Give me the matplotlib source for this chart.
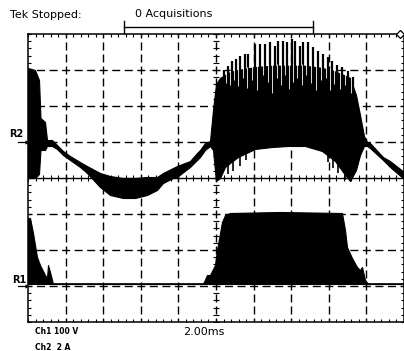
import matplotlib
matplotlib.use("Agg")
import matplotlib.pyplot as plt
import numpy as np
from matplotlib.lines import Line2D

plt.rcParams['lines.scale_dashes'] = False
plt.rcParams['font.family'] = ['DejaVu Sans']

# ---------------- data (time in ms, amplitude in screen divisions) ----------------
# R2 reference trace: envelope of the dense waveform (upper / lower edge)
r2_t = [0.000, 0.372, 0.585, 0.665, 0.904, 1.011, 1.277, 1.543, 1.862, 2.234,
        2.766, 3.138, 3.830, 4.362, 5.053, 5.691, 6.330, 6.862, 7.181, 7.713,
        7.926, 8.617, 8.989, 9.149, 9.415, 9.681, 9.840, 10.000, 10.213, 10.479,
        10.745, 11.170, 12.074, 12.979, 13.830, 14.734, 15.638, 16.330, 16.755, 17.128,
        17.447, 17.660, 17.872, 18.032, 18.191, 18.883, 19.255, 20.000]
r2_hi = [3.056, 3.000, 2.722, 1.667, 1.556, 1.056, 1.056, 0.917, 0.750, 0.611,
         0.444, 0.333, 0.139, 0.056, 0.000, 0.000, 0.028, 0.028, 0.139, 0.278,
         0.333, 0.472, 0.694, 0.778, 0.972, 1.028, 1.889, 2.611, 2.778, 2.861,
         2.944, 3.000, 3.080, 3.120, 3.120, 3.120, 3.060, 2.960, 2.870, 2.780,
         2.306, 1.750, 1.167, 1.000, 0.972, 0.583, 0.472, 0.167]
r2_lo = [0.000, 0.000, 0.111, 0.778, 0.778, 0.889, 0.889, 0.806, 0.639, 0.500,
         0.306, 0.139, -0.250, -0.472, -0.556, -0.556, -0.472, -0.333, -0.139, 0.000,
         0.028, 0.306, 0.500, 0.583, 0.778, 0.889, 0.778, -0.083, 0.000, 0.306,
         0.417, 0.583, 0.806, 0.861, 0.889, 0.889, 0.750, 0.472, 0.167, -0.083,
         0.222, 0.639, 0.889, 0.889, 0.833, 0.500, 0.306, -0.028]

# R2 burst: tips of the individual upward spikes
spike_t = [10.45, 10.65, 10.85, 11.05, 11.28, 11.54, 11.72, 12.07, 12.34, 12.61,
           12.87, 13.14, 13.31, 13.58, 13.76, 14.03, 14.20, 14.47, 14.64, 14.91,
           15.18, 15.44, 15.71, 15.95, 16.15, 16.45, 16.69, 17.04, 17.30]
spike_top = [3.00, 3.10, 3.25, 3.30, 3.39, 3.44, 3.444, 3.722, 3.722, 3.722,
             3.778, 3.667, 3.814, 3.814, 3.769, 3.861, 3.814, 3.675, 3.769, 3.769,
             3.631, 3.536, 3.444, 3.35, 3.258, 3.15, 3.075, 2.981, 2.797]
# depth of the white gap after each spike (divisions below the body top)
gap_depth = [0.3, 0.4, 0.3, 0.5, 0.3, 0.6, 0.4, 0.7, 0.3, 0.5,
             0.8, 0.4, 0.6, 0.3, 0.7, 0.5, 0.4, 0.6, 0.3, 0.5,
             0.7, 0.4, 0.3, 0.6, 0.4, 0.5, 0.3, 0.4]
# R2 burst: lower ends of the downward spikes
dspike_t = [10.64, 10.90, 11.28, 11.60, 15.96, 16.22, 16.49, 16.86]
dspike_bot = [0.111, 0.194, 0.333, 0.500, 0.444, 0.278, 0.139, -0.056]

# R1 reference trace: envelope above its baseline
r1_base = -2.944
r1_t = [0.000, 0.106, 0.266, 0.479, 0.638, 0.904, 1.011, 1.064, 1.170, 1.277,
        1.330, 9.309, 9.521, 9.681, 9.947, 10.053, 10.213, 10.319, 10.479, 10.745,
        13.404, 16.702, 16.862, 16.968, 17.234, 17.500, 17.660, 17.766, 17.926, 18.085,
        20.000]
r1_hi = [-1.111, -1.111, -1.528, -2.194, -2.417, -2.694, -2.778, -2.417, -2.611, -2.833,
         -2.944, -2.944, -2.694, -2.694, -2.417, -2.000, -1.528, -1.222, -1.028, -0.972,
         -0.944, -0.972, -1.444, -1.917, -2.222, -2.472, -2.556, -2.472, -2.833, -2.944,
         -2.944]

top_left_text = "Tek Stopped:"
acq_text = "0 Acquisitions"
ch1_text = "Ch1 100 V"
ch2_text = "Ch2  2 A"
timebase_text = "2.00ms"

# ---------------- figure ----------------
W, H = 404, 351
fig = plt.figure(figsize=(W / 100, H / 100), dpi=100)
fig.patch.set_facecolor('white')
ax = fig.add_axes([28 / W, 29 / H, 376 / W, 288 / H])
ax.set_xlim(0, 20)
ax.set_ylim(-4, 4)
ax.set_facecolor('white')

# graticule
h_dash = (2.88, (5.76, 3.264))
v_dash = (2.88, (5.76, 2.88))
for xv in np.arange(2, 20, 2):
    ax.axvline(xv, color='black', lw=1.0, linestyle=v_dash, zorder=1)
for yv in [-3, -2, -1, 1, 2, 3]:
    ax.axhline(yv, color='black', lw=1.0, linestyle=h_dash, zorder=1)
ax.axhline(0, color='black', lw=1.0, zorder=1)

# centre-line minor ticks
mx = np.arange(0, 20.01, 0.4)
ax.plot(mx, np.zeros_like(mx), ls='none', marker='|', ms=5, mew=0.8, color='black', zorder=1)
my = np.arange(-4, 4.01, 0.2)
ax.plot(np.full_like(my, 10.0), my, ls='none', marker='_', ms=5, mew=0.8, color='black', zorder=1)

for s in ax.spines.values():
    s.set_linewidth(1.1)
    s.set_color('black')
ax.set_xticks(mx)
ax.set_yticks(my)
ax.tick_params(direction='in', length=2.4, width=0.8, top=True, right=True,
               labelbottom=False, labelleft=False, colors='black')

# R2 trace
ax.fill_between(r2_t, r2_lo, r2_hi, color='black', lw=0.8, zorder=3)
base = np.interp(spike_t, r2_t, r2_hi) - 0.3
ax.vlines(spike_t, base, spike_top, color='black', lw=1.6, zorder=3)
# white gaps between neighbouring spikes
st = np.asarray(spike_t)
gap_t = (st[:-1] + st[1:]) / 2
gap_top = np.interp(gap_t, r2_t, r2_hi) + 0.05
ax.vlines(gap_t, gap_top - np.asarray(gap_depth), gap_top, color='white', lw=0.6, zorder=4)
dtop = np.interp(dspike_t, r2_t, r2_lo) + 0.2
ax.vlines(dspike_t, dspike_bot, dtop, color='black', lw=1.2, zorder=3)

# R1 trace
ax.fill_between(r1_t, r1_base, r1_hi, color='black', lw=0.8, zorder=3)
ax.axhline(r1_base, color='black', lw=1.2, zorder=3)

# trigger marker top right
ax.plot([19.8], [4.0], marker='D', ms=4, mfc='white', mec='black', mew=0.9,
        clip_on=False, zorder=5)

def fx(px):
    return px / W

def fy(py):
    return 1 - py / H

# texts
fig.text(fx(10), fy(15), top_left_text, fontsize=8, ha='left', va='center')
fig.text(fx(135), fy(14), acq_text, fontsize=8, ha='left', va='center')
fig.text(fx(35), fy(332), ch1_text, fontsize=5.5, fontweight='bold', ha='left', va='center')
fig.text(fx(35), fy(347), ch2_text, fontsize=5.5, fontweight='bold', ha='left', va='center')
fig.text(fx(183), fy(332), timebase_text, fontsize=8, ha='left', va='center')
fig.text(fx(9), fy(134), "R2", fontsize=7, fontweight='bold', ha='left', va='center')
fig.text(fx(12), fy(280), "R1", fontsize=7, fontweight='bold', ha='left', va='center')

for py in (142, 286):
    fig.add_artist(Line2D([fx(18), fx(27)], [fy(py), fy(py)], color='black', lw=0.9))
    fig.add_artist(Line2D([fx(27)], [fy(py)], marker='>', ms=3, color='black', mew=0))

# acquisition bracket
fig.add_artist(Line2D([fx(124), fx(313)], [fy(27), fy(27)], color='black', lw=1.0))
fig.add_artist(Line2D([fx(124), fx(124)], [fy(21), fy(33)], color='black', lw=1.0))
fig.add_artist(Line2D([fx(313), fx(313)], [fy(21), fy(33)], color='black', lw=1.0))

fig.savefig("out.png", dpi=100, facecolor='white')
